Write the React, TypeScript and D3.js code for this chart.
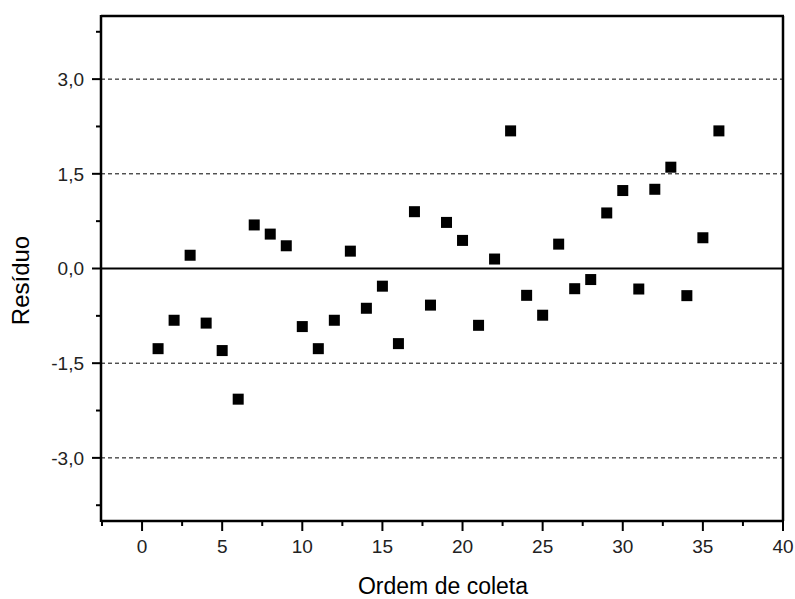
import React from "react";
import * as d3 from "d3";

// ordem de coleta x resíduo
const ordem = [
  1, 2, 3, 4, 5, 6, 7, 8, 9, 10, 11, 12, 13, 14, 15, 16, 17, 18,
  19, 20, 21, 22, 23, 24, 25, 26, 27, 28, 29, 30, 31, 32, 33, 34, 35, 36,
];
const residuo = [
  -1.27, -0.82, 0.21, -0.865, -1.3, -2.07, 0.69, 0.545, 0.36, -0.92, -1.27, -0.82,
  0.275, -0.63, -0.28, -1.19, 0.9, -0.58, 0.73, 0.445, -0.9, 0.15, 2.18, -0.425,
  -0.74, 0.386, -0.32, -0.175, 0.88, 1.235, -0.325, 1.255, 1.605, -0.43, 0.487, 2.18,
];
const xTicks = [0, 5, 10, 15, 20, 25, 30, 35, 40];
const xMinor = [-2.5, 2.5, 7.5, 12.5, 17.5, 22.5, 27.5, 32.5, 37.5];
const yTicks = [-3, -1.5, 0, 1.5, 3];
const yMinor = [-3.75, -2.25, -0.75, 0.75, 2.25, 3.75];
const yLabels = ["-3,0", "-1,5", "0,0", "1,5", "3,0"];

const W = 795;
const H = 599;
const m = { left: 101, right: 783, top: 16, bottom: 521 };
const font = "'Liberation Sans', Arial, sans-serif";

export default function App() {
  const x = d3.scaleLinear().domain([-2.5, 40]).range([m.left + 1, m.right]);
  const y = d3.scaleLinear().domain([-4, 4]).range([m.bottom, m.top]);
  const sq = 11;

  return (
    <svg
      width={W}
      height={H}
      style={{ position: "absolute", left: 0, top: 0, background: "#fff" }}
    >
      {/* linhas tracejadas */}
      {yTicks
        .filter((t) => t !== 0)
        .map((t) => (
          <line
            key={"g" + t}
            x1={m.left}
            x2={m.right}
            y1={y(t)}
            y2={y(t)}
            stroke="#000"
            strokeWidth={1}
            strokeDasharray="4,3"
          />
        ))}
      <line x1={m.left} x2={m.right} y1={y(0)} y2={y(0)} stroke="#000" strokeWidth={2} />

      {ordem.map((o, i) => (
        <rect
          key={o}
          x={x(o) - sq / 2}
          y={y(residuo[i]) - sq / 2}
          width={sq}
          height={sq}
          fill="#000"
        />
      ))}

      {/* moldura */}
      <line x1={m.left} x2={m.right + 1} y1={m.top} y2={m.top} stroke="#000" strokeWidth={2.5} />
      <line x1={m.right} x2={m.right} y1={m.top} y2={m.bottom} stroke="#000" strokeWidth={2.5} />
      <line x1={m.left} x2={m.left} y1={m.top - 1} y2={m.bottom + 1} stroke="#000" strokeWidth={2.5} />
      <line x1={m.left} x2={m.right + 1} y1={m.bottom} y2={m.bottom} stroke="#000" strokeWidth={2.5} />

      {/* eixo x */}
      {xTicks.map((t) => (
        <g key={"x" + t}>
          <line x1={x(t)} x2={x(t)} y1={m.bottom} y2={m.bottom + 10} stroke="#000" strokeWidth={2} />
          <text
            x={x(t)}
            y={553}
            textAnchor="middle"
            fontFamily={font}
            fontSize={19}
            fill="#222"
          >
            {t}
          </text>
        </g>
      ))}
      {xMinor.map((t) => (
        <line key={"xm" + t} x1={x(t)} x2={x(t)} y1={m.bottom} y2={m.bottom + 5} stroke="#000" strokeWidth={2} />
      ))}

      {/* eixo y */}
      {yTicks.map((t, i) => (
        <g key={"y" + t}>
          <line x1={m.left - 9} x2={m.left} y1={y(t)} y2={y(t)} stroke="#000" strokeWidth={2} />
          <text
            x={84}
            y={y(t)}
            dy="0.36em"
            textAnchor="end"
            fontFamily={font}
            fontSize={19}
            fill="#222"
          >
            {yLabels[i]}
          </text>
        </g>
      ))}
      {yMinor.map((t) => (
        <line key={"ym" + t} x1={m.left - 5} x2={m.left} y1={y(t)} y2={y(t)} stroke="#000" strokeWidth={2} />
      ))}

      <text
        x={(m.left + m.right) / 2 + 1}
        y={594}
        textAnchor="middle"
        fontFamily={font}
        fontSize={23}
        fill="#000"
      >
        Ordem de coleta
      </text>
      <text
        transform={`translate(29, ${(m.top + m.bottom) / 2 + 12}) rotate(-90)`}
        textAnchor="middle"
        fontFamily={font}
        fontSize={24}
        fill="#000"
      >
        Resíduo
      </text>
    </svg>
  );
}
